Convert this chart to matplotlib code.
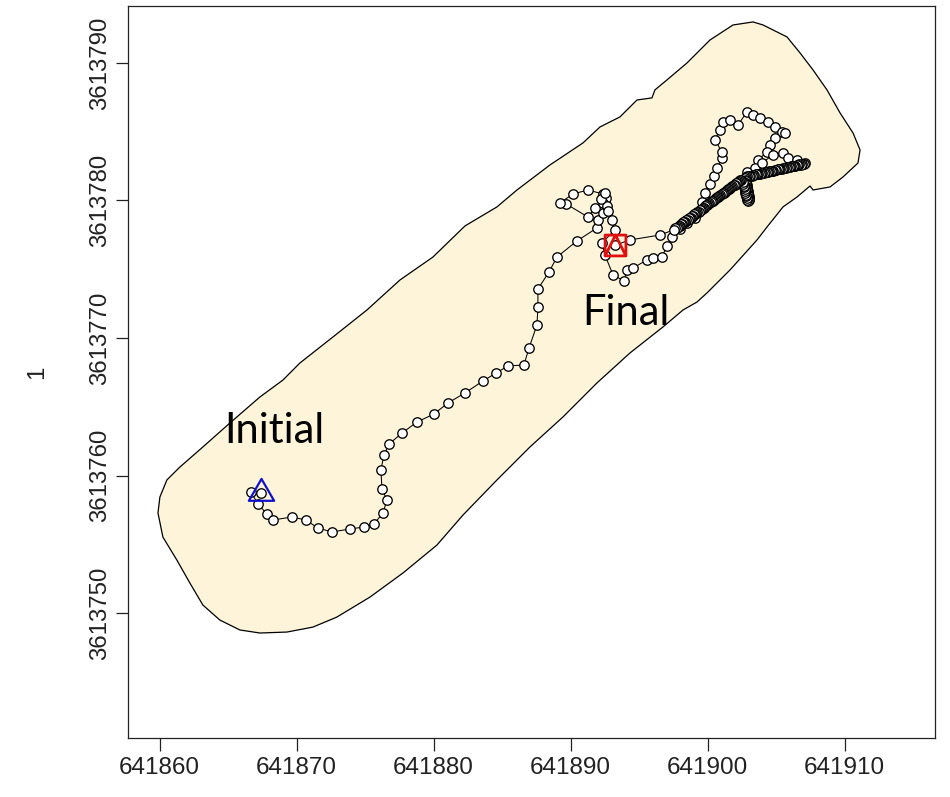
import matplotlib
matplotlib.use("Agg")
import matplotlib.pyplot as plt
from matplotlib import font_manager
from matplotlib.path import Path
from matplotlib.ticker import FixedLocator

# UTM origin used for the local offsets below (metres)
E0, N0 = 641860.0, 3613750.0

# Buffered home-range zone outline (offsets from origin, m)
zone_de = [-0.12, 0.02, 0.53, 1.48, 3.16, 5.13, 7.32, 9.00, 10.24, 12.65, 15.13, 17.54,
           19.95, 22.29, 24.62, 26.08, 28.49, 30.90, 32.14, 33.60, 34.84, 35.93, 36.15,
           37.03, 38.49, 40.17, 41.85, 43.31, 44.04, 45.79, 46.74, 47.69, 48.71, 49.66,
           50.61, 51.12, 50.97, 49.88, 48.93, 47.69, 47.47, 46.52, 45.50, 44.33, 43.60,
           41.63, 39.95, 39.22, 38.20, 36.74, 34.33, 31.92, 29.44, 27.03, 24.62, 22.14,
           20.24, 17.76, 15.35, 12.94, 11.19, 9.29, 7.32, 5.86, 4.40, 3.16, 2.21, 1.26, 0.24]
zone_dn = [7.29, 8.45, 9.69, 10.63, 12.09, 13.83, 15.72, 16.95, 18.19, 20.08, 22.04, 24.22,
           25.89, 28.15, 29.53, 30.76, 32.58, 34.18, 35.34, 36.07, 37.30, 37.45, 38.03,
           38.76, 39.99, 41.66, 42.75, 42.97, 42.75, 41.88, 40.72, 39.48, 38.03, 36.36,
           34.90, 33.67, 32.72, 31.71, 30.98, 30.76, 31.05, 30.25, 29.53, 28.07, 27.13,
           24.95, 23.28, 22.62, 22.04, 20.81, 18.92, 16.74, 14.27, 12.09, 9.69, 7.14,
           4.96, 2.93, 1.18, -0.27, -1.00, -1.36, -1.43, -1.21, -0.49, 0.60, 2.20, 3.87, 5.54]

# GPS fixes in time order, split into legs (offsets from origin, m)
approach_de = [7.40, 6.66, 7.18, 7.83, 8.27, 9.66, 10.68, 11.55, 12.58, 13.89, 14.91, 15.64, 16.30,
               16.59, 16.23, 16.15, 16.37, 16.74, 17.69, 18.78, 20.02, 21.04, 22.28, 23.60, 24.55,
               25.42, 26.59, 26.96, 27.54, 27.61, 27.61, 28.42, 29.00, 30.46, 31.92, 31.99, 32.36,
               31.77, 31.26, 29.66, 29.22, 30.17, 31.26, 32.36, 32.58, 32.36, 32.65, 32.21, 32.50,
               32.72, 33.01, 33.23, 32.28, 32.50, 33.09, 33.89, 34.11, 34.55, 35.57, 36.01, 36.66,
               37.03, 37.39]
approach_dn = [8.75, 8.82, 7.94, 7.22, 6.78, 7.00, 6.78, 6.20, 5.91, 6.13, 6.27, 6.49, 7.29,
               8.23, 9.03, 10.41, 11.50, 12.30, 13.10, 13.90, 14.48, 15.28, 16.01, 16.88, 17.46,
               17.97, 18.05, 19.28, 20.95, 22.26, 23.57, 24.80, 25.89, 27.06, 28.00, 28.58, 29.09,
               29.45, 28.80, 29.75, 29.82, 30.47, 30.76, 30.47, 30.18, 29.82, 29.60, 30.11, 30.55,
               29.24, 28.58, 27.86, 26.91, 26.04, 24.59, 24.15, 24.95, 25.09, 25.68, 25.82, 25.89,
               26.69, 27.35]

ridge_out_de = [37.95, 38.50, 39.05]
ridge_out_dn = [27.93, 28.34, 28.75]

loop_de = [39.58, 39.80, 40.17, 40.46, 40.68, 41.04, 41.04, 40.53, 40.90, 41.12, 41.63, 42.21,
           42.87, 43.31, 43.82, 44.40, 44.91, 45.42, 45.64, 44.91, 44.55, 44.33, 43.67, 43.45,
           42.87]
loop_dn = [29.89, 30.55, 31.20, 31.78, 32.36, 33.09, 33.52, 34.40, 35.12, 35.70, 35.85, 35.49,
           36.43, 36.21, 36.00, 35.70, 35.34, 34.98, 34.91, 34.54, 34.03, 33.52, 32.94, 32.36,
           32.07]

ne_run_de = [43.96, 44.77, 45.51, 45.86, 46.52]
ne_run_dn = [32.73, 33.31, 33.46, 33.09, 32.94]

# slow walk back along the ridge (1 s fixes)
ridge_back_de = [47.1, 47.0, 46.9, 46.8, 46.7, 46.6, 46.5, 46.4, 46.3, 46.2, 46.1,
                 46.0, 45.9, 45.8, 45.7, 45.6, 45.5, 45.4, 45.3, 45.2, 45.1,
                 45.0, 44.9, 44.8, 44.7, 44.6, 44.5, 44.4, 44.3, 44.2, 44.1,
                 44.0, 43.9, 43.8, 43.7, 43.6, 43.5, 43.4, 43.3, 43.2, 43.1,
                 43.0, 42.9, 42.8]
ridge_back_dn = [32.70, 32.66, 32.66, 32.61, 32.62, 32.57, 32.56, 32.53, 32.52, 32.48, 32.48,
                 32.44, 32.43, 32.40, 32.39, 32.35, 32.35, 32.31, 32.30, 32.26, 32.26,
                 32.22, 32.21, 32.17, 32.17, 32.13, 32.12, 32.08, 32.08, 32.04, 32.03,
                 31.99, 31.99, 31.95, 31.94, 31.90, 31.90, 31.86, 31.85, 31.81, 31.81,
                 31.77, 31.77, 31.73]

hook_de = [42.76, 42.78, 42.79, 42.81, 42.83, 42.84, 42.86, 42.88, 42.90,
           42.91, 42.93, 42.95, 42.96, 42.98, 43.00, 43.01, 43.01, 42.95,
           42.90, 42.86, 42.82, 42.79, 42.76, 42.73, 42.70, 42.67, 42.64, 42.61, 42.58]
hook_dn = [31.60, 31.50, 31.40, 31.30, 31.20, 31.10, 31.00, 30.90, 30.80,
           30.70, 30.60, 30.50, 30.40, 30.30, 30.20, 30.10, 30.00, 29.96,
           30.05, 30.17, 30.30, 30.43, 30.56, 30.69, 30.82, 30.95, 31.08, 31.21, 31.34]

descent_de = [42.45, 42.37, 42.29, 42.21, 42.13, 42.05, 41.97, 41.89, 41.81, 41.73,
              41.65, 41.57, 41.49, 41.41, 41.33, 41.25, 41.17, 41.09, 41.01, 40.93,
              40.85, 40.77, 40.69, 40.61, 40.53, 40.45, 40.37, 40.29, 40.21, 40.13,
              40.05, 39.97, 39.89, 39.81, 39.73, 39.65, 39.57, 39.49, 39.41, 39.33,
              39.25, 39.17, 39.09, 39.01, 38.93, 38.85, 38.77, 38.69, 38.61, 38.53,
              38.45, 38.37, 38.29, 38.21, 38.13, 38.05, 37.97, 37.89, 37.81, 37.73,
              37.65, 37.57]
descent_dn = [31.51, 31.47, 31.38, 31.37, 31.27, 31.24, 31.13, 31.11, 31.07, 30.96,
              30.94, 30.83, 30.81, 30.77, 30.66, 30.64, 30.54, 30.53, 30.48, 30.37,
              30.34, 30.24, 30.23, 30.17, 30.07, 30.04, 29.94, 29.93, 29.89, 29.78,
              29.75, 29.65, 29.64, 29.59, 29.48, 29.45, 29.35, 29.34, 29.28, 29.18,
              29.16, 29.06, 29.05, 29.00, 28.89, 28.86, 28.76, 28.75, 28.69, 28.59,
              28.56, 28.46, 28.45, 28.41, 28.30, 28.27, 28.17, 28.16, 28.10, 28.00,
              27.97, 27.88]

arrival_de = [36.52, 34.33, 33.21]
arrival_dn = [27.49, 27.13, 26.74]

x_ticks = [641860, 641870, 641880, 641890, 641900, 641910]
y_ticks = [3613750, 3613760, 3613770, 3613780, 3613790]
x_limits = (E0 - 2.31, E0 + 56.59)
y_limits = (N0 - 9.06, N0 + 44.13)

legs_de = [approach_de, ridge_out_de, loop_de, ne_run_de, ridge_back_de, hook_de,
           descent_de, arrival_de]
legs_dn = [approach_dn, ridge_out_dn, loop_dn, ne_run_dn, ridge_back_dn, hook_dn,
           descent_dn, arrival_dn]
track_x = [E0 + v for leg in legs_de for v in leg]
track_y = [N0 + v for leg in legs_dn for v in leg]
zone_x = [E0 + v for v in zone_de]
zone_y = [N0 + v for v in zone_dn]

# axis text: condensed sans if present, regular otherwise
installed = {f.name for f in font_manager.fontManager.ttflist}
if "Liberation Sans Narrow" in installed:
    axis_font, x_size, y_size = "Liberation Sans Narrow", 21.0, 20.5
else:
    axis_font, x_size, y_size = "Liberation Sans", 17.5, 17.3

fig = plt.figure(figsize=(9.5, 7.97), dpi=100)
ax = fig.add_axes([0.1347, 0.0740, 0.8495, 0.9185])

ax.fill(zone_x, zone_y, facecolor="#FEF4DA", edgecolor="black", linewidth=0.9, zorder=1)

ax.plot(track_x, track_y, color="black", linewidth=0.75, zorder=2)
ax.plot(track_x, track_y, linestyle="none", marker="o", markersize=6.8,
        markerfacecolor="white", markeredgecolor="black", markeredgewidth=0.95, zorder=3)

# start: open triangle (R pch 2 geometry)
tri = Path([(0.0, 1.555), (1.347, -0.778), (-1.347, -0.778), (0.0, 1.555)],
           [Path.MOVETO, Path.LINETO, Path.LINETO, Path.CLOSEPOLY])
ax.plot(track_x[0], track_y[0], linestyle="none", marker=tri, markersize=21,
        markerfacecolor="none", markeredgecolor="#1010CC", markeredgewidth=1.6, zorder=4)

# end: square with inscribed triangle (R pch 14 geometry)
sq_tri = Path([(-1, -1), (1, -1), (1, 1), (-1, 1), (-1, -1),
               (-1, -1), (0, 1), (1, -1)],
              [Path.MOVETO, Path.LINETO, Path.LINETO, Path.LINETO, Path.CLOSEPOLY,
               Path.MOVETO, Path.LINETO, Path.LINETO])
ax.plot(track_x[-1], track_y[-1], linestyle="none", marker=sq_tri, markersize=15,
        markerfacecolor="none", markeredgecolor="#E01010", markeredgewidth=2.0, zorder=4)

ax.text(E0 + 4.69, N0 + 12.38, "Initial", fontsize=30, family="Lato",
        ha="left", va="baseline", zorder=5)
ax.text(E0 + 30.82, N0 + 20.95, "Final", fontsize=30, family="Lato",
        ha="left", va="baseline", zorder=5)

ax.set_xlim(*x_limits)
ax.set_ylim(*y_limits)
ax.xaxis.set_major_locator(FixedLocator(x_ticks))
ax.yaxis.set_major_locator(FixedLocator(y_ticks))
ax.set_xticklabels([str(v) for v in x_ticks], fontsize=x_size, family=axis_font,
                   color="#222222")
ax.set_yticklabels([str(v) for v in y_ticks], fontsize=y_size, family=axis_font,
                   rotation=90, va="center", color="#222222")
ax.tick_params(axis="both", direction="out", length=9, width=0.9, color="#222222")
ax.tick_params(axis="x", pad=5)
ax.tick_params(axis="y", pad=3)
ax.set_ylabel("1", fontsize=y_size, family=axis_font, color="#222222", labelpad=30)

for sp in ax.spines.values():
    sp.set_linewidth(0.9)
    sp.set_color("#222222")

fig.savefig("out.png", dpi=100)
